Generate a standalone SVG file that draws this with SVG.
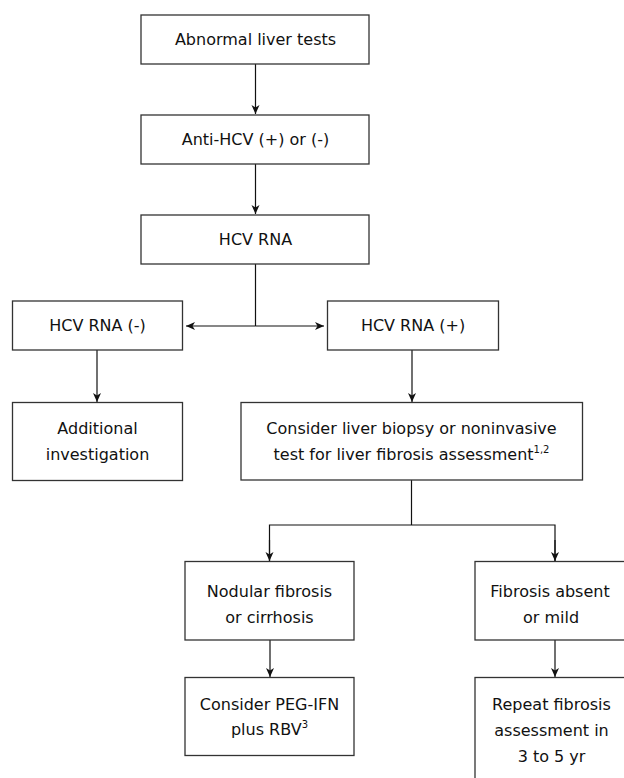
<svg xmlns="http://www.w3.org/2000/svg" width="624" height="778" viewBox="0 0 624 778">
<style>
.box{fill:#fff;stroke:#333;stroke-width:1.3}
.t{font-family:"DejaVu Sans",Verdana,sans-serif;font-size:16px;fill:#111;text-anchor:middle}
.sup{font-size:10px}
.c{fill:none;stroke:#111;stroke-width:1.2}
</style>
<defs>
<marker id="ah" markerUnits="userSpaceOnUse" markerWidth="10" markerHeight="10" viewBox="0 0 10 10" refX="9" refY="5" orient="auto">
<path d="M0,1 L9,5 L0,9 L2.5,5 Z" fill="#111"/>
</marker>
</defs>
<rect width="624" height="778" fill="#fff"/>
<g id="connectors">
<line class="c" x1="255.5" y1="64" x2="255.5" y2="114" marker-end="url(#ah)"/>
<line class="c" x1="255.5" y1="164" x2="255.5" y2="214" marker-end="url(#ah)"/>
<line class="c" x1="255.5" y1="264" x2="255.5" y2="326"/>
<line class="c" x1="255.5" y1="326" x2="186" y2="326" marker-end="url(#ah)"/>
<line class="c" x1="255.5" y1="326" x2="324" y2="326" marker-end="url(#ah)"/>
<line class="c" x1="97" y1="350" x2="97" y2="402" marker-end="url(#ah)"/>
<line class="c" x1="412" y1="350" x2="412" y2="402" marker-end="url(#ah)"/>
<polyline class="c" points="411.5,480 411.5,525"/>
<polyline class="c" points="269.5,561 269.5,525 555,525 555,561" />
<line class="c" x1="269.5" y1="540" x2="269.5" y2="561" marker-end="url(#ah)"/>
<line class="c" x1="555" y1="540" x2="555" y2="561" marker-end="url(#ah)"/>
<line class="c" x1="270" y1="640" x2="270" y2="677" marker-end="url(#ah)"/>
<line class="c" x1="555" y1="640" x2="555" y2="677" marker-end="url(#ah)"/>
</g>
<g id="n1"><rect class="box" x="141" y="15" width="228" height="49"/><text class="t" x="255.5" y="45">Abnormal liver tests</text></g>
<g id="n2"><rect class="box" x="141" y="115" width="228" height="49"/><text class="t" x="255.5" y="145">Anti-HCV (+) or (-)</text></g>
<g id="n3"><rect class="box" x="141" y="215" width="228" height="49"/><text class="t" x="255.5" y="245">HCV RNA</text></g>
<g id="n4"><rect class="box" x="12.5" y="301" width="170" height="49"/><text class="t" x="97.5" y="331">HCV RNA (-)</text></g>
<g id="n5"><rect class="box" x="327.5" y="301" width="171" height="49"/><text class="t" x="413" y="331">HCV RNA (+)</text></g>
<g id="n6"><rect class="box" x="12.5" y="402.5" width="170" height="78"/><text class="t" x="97.5" y="434">Additional</text><text class="t" x="97.5" y="459.5">investigation</text></g>
<g id="n7"><rect class="box" x="241" y="402.5" width="341.5" height="77.5"/><text class="t" x="411.5" y="434">Consider liver biopsy or noninvasive</text><text class="t" x="411.5" y="459.5">test for liver fibrosis assessment<tspan class="sup" dy="-7">1,2</tspan></text></g>
<g id="n8"><rect class="box" x="185" y="561.5" width="169" height="78.5"/><text class="t" x="269.5" y="597">Nodular fibrosis</text><text class="t" x="269.5" y="622.5">or cirrhosis</text></g>
<g id="n9"><rect class="box" x="475" y="561.5" width="170" height="78.5"/><text class="t" x="550" y="597">Fibrosis absent</text><text class="t" x="551" y="622.5">or mild</text></g>
<g id="n10"><rect class="box" x="185" y="677.5" width="169" height="78"/><text class="t" x="269.5" y="710">Consider PEG-IFN</text><text class="t" x="269.5" y="735">plus RBV<tspan class="sup" dy="-7">3</tspan></text></g>
<g id="n11"><rect class="box" x="475" y="677.5" width="170" height="130"/><text class="t" x="551.5" y="710">Repeat fibrosis</text><text class="t" x="551.5" y="735.5">assessment in</text><text class="t" x="551.5" y="762">3 to 5 yr</text></g>
</svg>
